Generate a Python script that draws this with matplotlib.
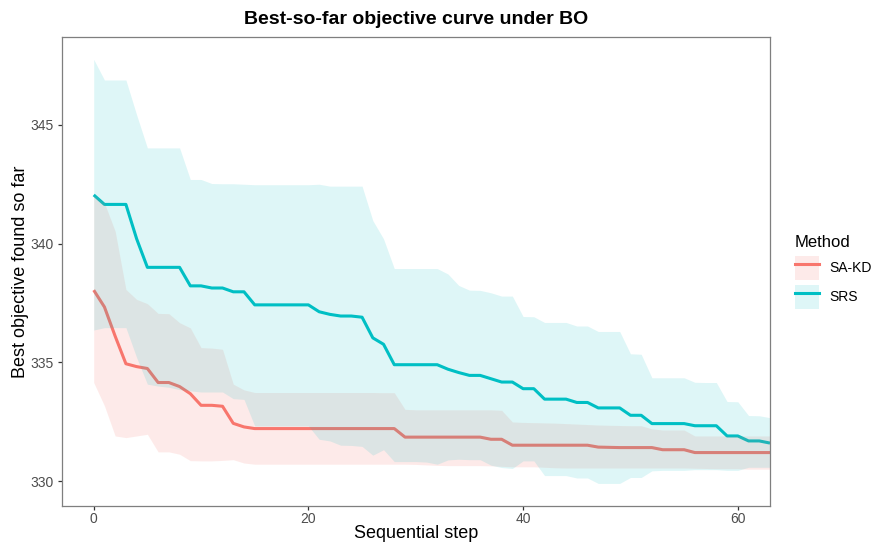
import numpy as np
import matplotlib
matplotlib.use("Agg")
import matplotlib.pyplot as plt
from matplotlib.patches import Patch
from matplotlib.lines import Line2D

plt.rcParams['font.family'] = ['Liberation Sans', 'DejaVu Sans']

steps = np.arange(64)

# best-so-far objective, mean and band, per method
srs_mean = [342.05, 341.65, 341.65, 341.65, 340.2, 339.0, 339.0, 339.0, 339.0, 338.22,
            338.22, 338.13, 338.13, 337.97, 337.97, 337.42, 337.42, 337.42, 337.42, 337.42,
            337.42, 337.13, 337.02, 336.95, 336.95, 336.9, 336.03, 335.76, 334.9, 334.9,
            334.9, 334.9, 334.9, 334.71, 334.57, 334.45, 334.45, 334.31, 334.17, 334.17,
            333.89, 333.89, 333.45, 333.45, 333.45, 333.31, 333.31, 333.08, 333.08, 333.08,
            332.77, 332.77, 332.42, 332.42, 332.42, 332.42, 332.33, 332.33, 332.33, 331.9,
            331.9, 331.69, 331.69, 331.6]
srs_upper = [347.76, 346.89, 346.89, 346.89, 345.42, 344.03, 344.03, 344.03, 344.03, 342.7,
             342.7, 342.53, 342.52, 342.52, 342.5, 342.48, 342.48, 342.48, 342.48, 342.48,
             342.48, 342.5, 342.42, 342.42, 342.42, 342.42, 340.97, 340.2, 338.95, 338.95,
             338.95, 338.95, 338.95, 338.72, 338.24, 338.04, 338.03, 337.93, 337.79, 337.79,
             336.93, 336.92, 336.68, 336.68, 336.68, 336.53, 336.53, 336.3, 336.3, 336.3,
             335.36, 335.34, 334.35, 334.35, 334.35, 334.35, 334.16, 334.15, 334.15, 333.35,
             333.34, 332.76, 332.75, 332.67]
srs_lower = [336.36, 336.46, 336.46, 336.46, 335.2, 334.08, 334.0, 333.95, 333.85, 333.8,
             333.75, 333.75, 333.75, 333.47, 333.44, 332.32, 332.32, 332.32, 332.32, 332.32,
             332.32, 331.76, 331.69, 331.51, 331.5, 331.46, 331.09, 331.32, 330.82, 330.82,
             330.82, 330.8, 330.71, 330.89, 330.92, 330.9, 330.9, 330.67, 330.57, 330.53,
             330.85, 330.85, 330.23, 330.23, 330.23, 330.13, 330.13, 329.9, 329.9, 329.9,
             330.15, 330.15, 330.43, 330.45, 330.45, 330.45, 330.48, 330.48, 330.48, 330.45,
             330.45, 330.58, 330.58, 330.58]

sakd_mean = [338.04, 337.33, 336.1, 334.94, 334.82, 334.74, 334.15, 334.15, 333.98, 333.68,
             333.19, 333.19, 333.15, 332.43, 332.28, 332.21, 332.21, 332.21, 332.21, 332.21,
             332.21, 332.21, 332.21, 332.21, 332.21, 332.21, 332.21, 332.21, 332.21, 331.85,
             331.85, 331.85, 331.85, 331.85, 331.85, 331.85, 331.85, 331.76, 331.76, 331.51,
             331.51, 331.51, 331.51, 331.51, 331.51, 331.51, 331.51, 331.43, 331.42, 331.41,
             331.41, 331.41, 331.41, 331.32, 331.32, 331.32, 331.2, 331.2, 331.2, 331.2,
             331.2, 331.2, 331.2, 331.2]
sakd_upper = [342.06, 341.71, 340.52, 338.07, 337.65, 337.47, 337.06, 337.05, 336.67, 336.45,
              335.62, 335.6, 335.55, 334.08, 333.84, 333.73, 333.73, 333.73, 333.73, 333.73,
              333.73, 333.73, 333.73, 333.73, 333.73, 333.73, 333.73, 333.72, 333.72, 333.02,
              333.0, 333.0, 333.0, 333.0, 333.0, 333.0, 333.0, 333.0, 332.98, 332.49,
              332.47, 332.46, 332.45, 332.44, 332.42, 332.4, 332.38, 332.36, 332.35, 332.34,
              332.33, 332.33, 332.2, 332.15, 332.15, 332.15, 331.9, 331.9, 331.9, 331.9,
              331.9, 331.9, 331.9, 331.9]
sakd_lower = [334.15, 333.17, 331.9, 331.83, 331.9, 331.97, 331.23, 331.23, 331.13, 330.86,
              330.85, 330.85, 330.87, 330.9, 330.76, 330.71, 330.71, 330.71, 330.71, 330.71,
              330.71, 330.71, 330.71, 330.71, 330.71, 330.71, 330.71, 330.71, 330.71, 330.71,
              330.7, 330.68, 330.66, 330.65, 330.65, 330.65, 330.65, 330.64, 330.62, 330.6,
              330.6, 330.6, 330.58, 330.56, 330.55, 330.55, 330.55, 330.55, 330.55, 330.55,
              330.55, 330.55, 330.55, 330.55, 330.55, 330.55, 330.54, 330.53, 330.52, 330.52,
              330.52, 330.5, 330.5, 330.5]

methods = ['SA-KD', 'SRS']
colors = {'SA-KD': '#F8766D', 'SRS': '#00BFC4'}
band_alpha = {'SA-KD': 0.15, 'SRS': 0.13}

fig = plt.figure(figsize=(8.73, 5.46), dpi=100)
ax = fig.add_axes([61.5 / 873, 1 - 506 / 546, (770 - 61.5) / 873, (506 - 37) / 546])

# lines go under the ribbons
ax.plot(steps, sakd_mean, color=colors['SA-KD'], lw=2.2, zorder=1, solid_capstyle='butt')
ax.plot(steps, srs_mean, color=colors['SRS'], lw=2.2, zorder=1, solid_capstyle='butt')
ax.fill_between(steps, sakd_lower, sakd_upper, color=colors['SA-KD'],
                alpha=band_alpha['SA-KD'], lw=0, zorder=2)
ax.fill_between(steps, srs_lower, srs_upper, color=colors['SRS'],
                alpha=band_alpha['SRS'], lw=0, zorder=2)

ax.set_xlim(-3, 63)
ax.set_ylim(328.95, 348.7)
ax.set_xticks([0, 20, 40, 60])
ax.set_yticks([330, 335, 340, 345])

for s in ax.spines.values():
    s.set_color('#7f7f7f')
    s.set_linewidth(0.9)
ax.tick_params(length=2.9, width=0.9, color='#333333', labelcolor='#4d4d4d',
               labelsize=10)
ax.tick_params(axis='x', pad=1.7)
ax.tick_params(axis='y', pad=3)

ax.set_xlabel('Sequential step', fontsize=13, color='black', labelpad=-1)
ax.set_ylabel('Best objective found so far', fontsize=13, color='black', labelpad=0.5)
ax.set_title('Best-so-far objective curve under BO', fontsize=14, fontweight='bold',
             pad=9.4)

handles = [(Patch(facecolor=colors[m], alpha=band_alpha[m], lw=0),
            Line2D([], [], color=colors[m], lw=2.2)) for m in methods]
leg = fig.legend(handles, methods, title='Method', loc='upper left',
                 bbox_to_anchor=(795 / 873, 1 - 235 / 546), frameon=False,
                 fontsize=10, title_fontsize=12, handlelength=1.73, handleheight=2.28,
                 handletextpad=0.72, labelspacing=0.4, borderpad=0, borderaxespad=0,
                 alignment='left')

fig.savefig('out.png', dpi=100)
